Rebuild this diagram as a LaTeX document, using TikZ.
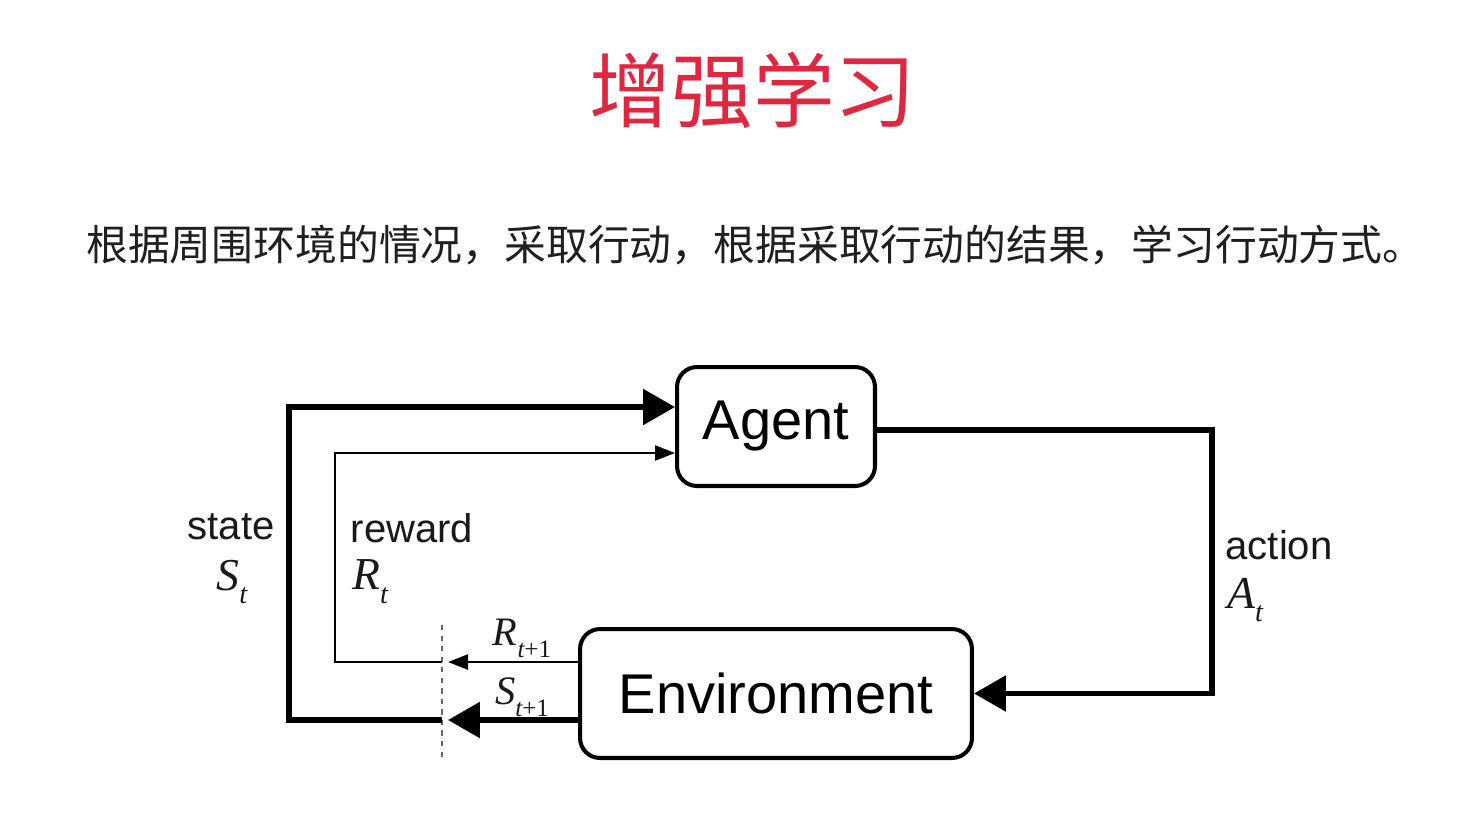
\documentclass[tikz,border=0pt]{standalone}
\usepackage{fontspec}
\setmainfont{Liberation Sans}
\newfontfamily\cjk{Noto Sans CJK SC}
\newfontfamily\tmath{Liberation Serif}
\usetikzlibrary{arrows.meta}
\definecolor{titlered}{rgb}{0.878, 0.153, 0.251}
\newcommand{\sym}[2]{{\tmath\itshape #1}\raisebox{-0.3em}{\scalebox{0.62}{\tmath #2}}}

\begin{document}
\begin{tikzpicture}[x=0.02cm, y=-0.02cm,
    blockbox/.style={draw, line width=2.3pt, rounded corners=0.4cm, inner sep=0pt, font=\fontsize{31.9}{32}\selectfont},
    bigline/.style={line width=3.2pt},
    thinline/.style={line width=1.4pt},
    bigtip/.style={-{Triangle[length=0.64cm, width=0.7cm]}},
    thintip/.style={-{Triangle[length=0.4cm, width=0.3cm]}},
    tag/.style={text=black!90, font=\fontsize{22.8}{23}\selectfont},
    mathtag/.style={text=black!90, font=\fontsize{26}{26}\selectfont},
    nexttag/.style={text=black!90, font=\fontsize{23}{23}\selectfont}]
  \useasboundingbox (0, 0) rectangle (1461, 833);

  \node (title) at (753, 90) [text=titlered, font=\cjk\fontsize{46.5}{47}\selectfont] {增强学习};
  \node (intro) at (86, 245) [anchor=west, inner sep=0pt, text=black!88, font=\cjk\fontsize{23.8}{24}\selectfont] {根据周围环境的情况，采取行动，根据采取行动的结果，学习行动方式。};

  \node (agent) at (776, 426.5) [blockbox, minimum width=3.96cm, minimum height=2.38cm] {Agent};
  \node (env) at (776, 693.5) [blockbox, minimum width=7.84cm, minimum height=2.58cm] {Environment};

  % cut between t and t+1
  \coordinate (cuttop) at (442, 625);
  \coordinate (cutbot) at (442, 762);
  \draw [black!60, line width=0.8pt, dashed] (cuttop) -- (cutbot);

  \coordinate (tipx) at (448, 0);
  \coordinate (statex) at (289, 0);
  \coordinate (rewardx) at (335, 0);
  \coordinate (actionx) at (1212, 0);
  \coordinate (sout) at ([yshift=-0.53cm]env.west);
  \coordinate (rout) at ([yshift=0.63cm]env.west);
  \coordinate (sin) at ([yshift=0.39cm]agent.west);
  \coordinate (rin) at ([yshift=-0.53cm]agent.west);
  \coordinate (aout) at ([yshift=-0.07cm]agent.east);

  % state
  \draw [bigline, bigtip] (sout) -- (sout -| tipx);
  \draw [bigline, bigtip] (sout -| cuttop) -- (sout -| statex) |- (sin);

  % reward
  \draw [thinline, thintip] (rout) -- (rout -| tipx);
  \draw [thinline, thintip] (rout -| cuttop) -- (rout -| rewardx) |- (rin);

  % action
  \draw [bigline, bigtip] (aout) -- (aout -| actionx) |- (env.east);

  \node (statelbl) at (231, 527) [tag] {state};
  \node (stsym) at (232, 582) [mathtag] {\sym{S}{\itshape t}};
  \node (rewardlbl) at (412, 528) [tag] {reward};
  \node (rtsym) at (370, 582) [mathtag] {\sym{R}{\itshape t}};
  \node (actionlbl) at (1279, 545) [tag] {action};
  \node (atsym) at (1245, 600) [mathtag] {\sym{A}{\itshape t}};
  \node (rnext) at (522, 638) [nexttag] {\sym{R}{\itshape t\upshape+1}};
  \node (snext) at (522, 697) [nexttag] {\sym{S}{\itshape t\upshape+1}};
\end{tikzpicture}
\end{document}
